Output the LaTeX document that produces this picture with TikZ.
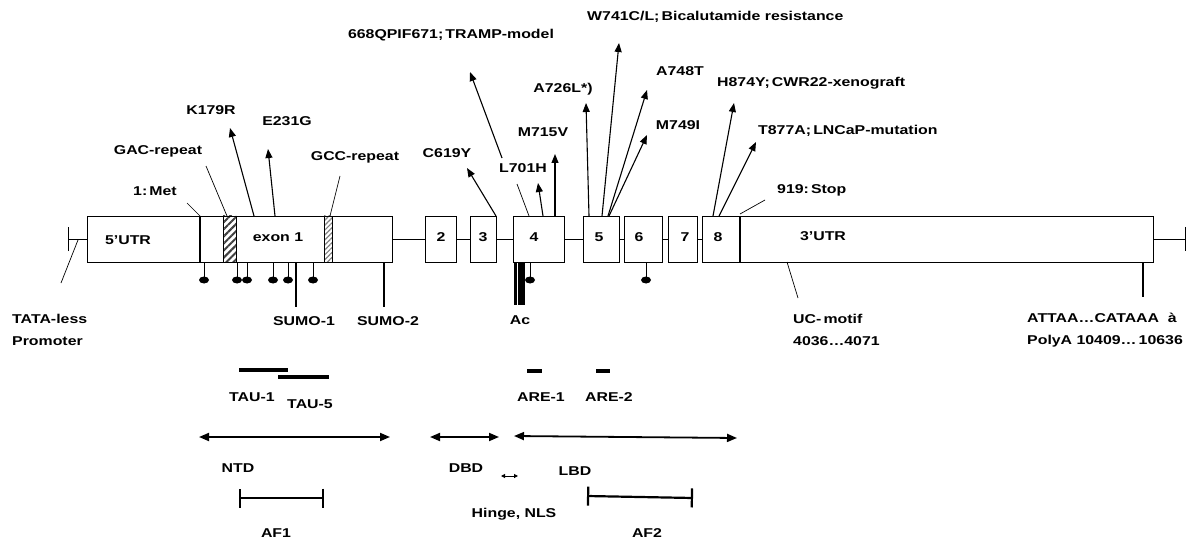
\documentclass[tikz,border=0pt]{standalone}
\usepackage{fontspec}
\setmainfont{Liberation Sans}[FakeStretch=1.24]
\usetikzlibrary{arrows.meta,patterns.meta}

\begin{document}
\begin{tikzpicture}[x=1pt, y=-1pt, >={Triangle[length=9pt,width=7pt]},
    every node/.style={font=\fontsize{12.8}{14}\selectfont\bfseries, inner sep=0pt},
    twoline/.style={align=left, anchor=west, font=\fontsize{12.8}{21.5}\selectfont\bfseries},
    exon/.style={draw, line width=0.9pt, fill=white, minimum height=46pt},
    mut/.style={->, line width=1.1pt},
    lead/.style={line width=0.7pt},
    site/.style={line width=2.6pt},
    dom/.style={<->, line width=1.8pt, >={Triangle[length=10pt,width=8pt]}},
    seg/.style={line width=3.3pt}]
  \useasboundingbox (0,0) rectangle (1198,545);

  % introns first, exons on top
  \draw[lead] (392,239) -- (740,239);
  \draw[lead,{Bar[width=24pt]}-] (68,239) coordinate (prom) -- (87,239);
  \draw[lead,-{Bar[width=24pt]}] (1153,239) -- (1186,239) coordinate (term);

  % exon boxes
  \node[exon, minimum width=305pt] (ex1) at (239.5,239) {};
  \foreach \n/\x/\w in {2/440.5/31, 3/483/26, 4/538.5/51, 5/601/36,
                        6/643/38, 7/682.5/29, 8/721/38}
    \node[exon, minimum width=\w pt] (e\n) at (\x,239) {};
  \node[exon, minimum width=413pt] (utr3) at (946.5,239) {};
  \draw[line width=2pt] (740,216) -- (740,262);

  % start codon and repeats inside exon 1
  \draw[line width=2pt] (200,216) -- (200,262);
  \draw[line width=0.9pt, pattern={Lines[angle=45,distance=5pt,line width=2pt]},
        pattern color=black!75] (223,216) rectangle (236,262);
  \draw[line width=0.9pt, pattern={Lines[angle=45,distance=3.5pt,line width=1.2pt]},
        pattern color=gray] (324,216) rectangle (332,262);

  % box texts
  \node (t5utr) at (128,240) {5’UTR};
  \node (tex1) at (278,237) {exon 1};
  \foreach \n/\x in {2/441, 3/483, 4/534, 5/599, 6/639, 7/685, 8/718}
    \node (n\n) at (\x,237) {\n};
  \node (t3utr) at (823,236) {3’UTR};

  % labels above
  \node (met) at (155,191) {1:\,Met};
  \node (gac) at (158,151) {GAC-repeat};
  \node (k179) at (211,110) {K179R};
  \node (e231) at (287,121) {E231G};
  \node (gcc) at (355,157) {GCC-repeat};
  \node (tramp) at (451,35) {668QPIF671;\,TRAMP-model};
  \node[anchor=west] (w741) at (587,17) {W741C/L;\,Bicalutamide resistance};
  \node (c619) at (447,153) {C619Y};
  \node (l701) at (523,168) {L701H};
  \node (m715) at (543,132) {M715V};
  \node (a726) at (563,89) {A726L*)};
  \node (a748) at (680,71) {A748T};
  \node (m749) at (678,125) {M749I};
  \node[anchor=west] (h874) at (717,83) {H874Y;\,CWR22-xenograft};
  \node[anchor=west] (t877) at (758,131) {T877A;\,LNCaP-mutation};
  \node[anchor=west] (stop) at (777,190) {919:\,Stop};

  % mutation arrows: start on box top / tip
  \foreach \sx/\tx/\ty in {254/230/128, 275/268/149, 496/467/168, 543/538/183,
                           555/555/154, 589/586/103, 602/619/43, 608/647/90,
                           609/647/135, 713/734/103, 719/756/142}
    \draw[mut] (\sx,216) -- (\tx,\ty);
  \draw[mut] (502,158) -- (470,72);

  % plain leaders
  \foreach \ax/\ay/\bx/\by in {187/203/200/216, 206/166/227/216, 340/176/330/216,
                               529/216/517/184, 765/200/740/214, 78/240/61/283,
                               787/262/798/298}
    \draw[lead] (\ax,\ay) -- (\bx,\by);

  % phosphorylation sites
  \foreach \x in {204,237,247,273,288,313,530,646} {
    \draw[lead] (\x,262) -- (\x,277);
    \fill (\x,280) ellipse (5pt and 3.5pt);
  }

  % sumoylation, acetylation, polyA
  \draw[site] (296,262) -- (296,307);
  \draw[site] (384,262) -- (384,307);
  \draw[line width=2.3pt] (515.5,263) -- (515.5,305);
  \draw[line width=6.7pt] (521.7,263) -- (521.7,305);
  \draw[site] (1143,262) -- (1143,297);

  % labels below
  \node[twoline] (tata) at (12,330) {TATA-less\\Promoter};
  \node (sumo1) at (304,321) {SUMO-1};
  \node (sumo2) at (388,321) {SUMO-2};
  \node (ac) at (520,320) {Ac};
  \node[twoline] (uc) at (793,330) {UC-\,motif\\4036…4071};
  \node[twoline] (polya) at (1027,330) {ATTAA…CATAAA \ à\\PolyA 10409…\,10636};

  % transactivation units and response elements
  \draw[seg] (239,370) -- (288,370);
  \draw[seg] (278,377) -- (329,377);
  \draw[seg] (527,371) -- (542,371);
  \draw[seg] (596,371) -- (610,371);
  \node (tau1) at (252,397) {TAU-1};
  \node (tau5) at (310,404) {TAU-5};
  \node (are1) at (541,397) {ARE-1};
  \node (are2) at (609,397) {ARE-2};

  % domains
  \draw[dom] (199,437) -- (390,437);
  \draw[dom] (430,437) -- (499,437);
  \draw[dom] (514,436) -- (737,438);
  \draw[<->, line width=1pt, >={Triangle[length=4pt,width=4pt]}] (501,476) -- (518,476);
  \node (ntd) at (238,468) {NTD};
  \node (dbd) at (466,468) {DBD};
  \node (lbd) at (575,471) {LBD};
  \node (hinge) at (514,514) {Hinge, NLS};

  % activation functions
  \draw[line width=2.2pt, {Bar[width=19pt]}-{Bar[width=19pt]}] (239,498) -- (324,498);
  \draw[line width=2.2pt, {Bar[width=19pt]}-{Bar[width=19pt]}] (587,496) -- (693,498);
  \node (af1) at (276,533) {AF1};
  \node (af2) at (647,533) {AF2};
\end{tikzpicture}
\end{document}
